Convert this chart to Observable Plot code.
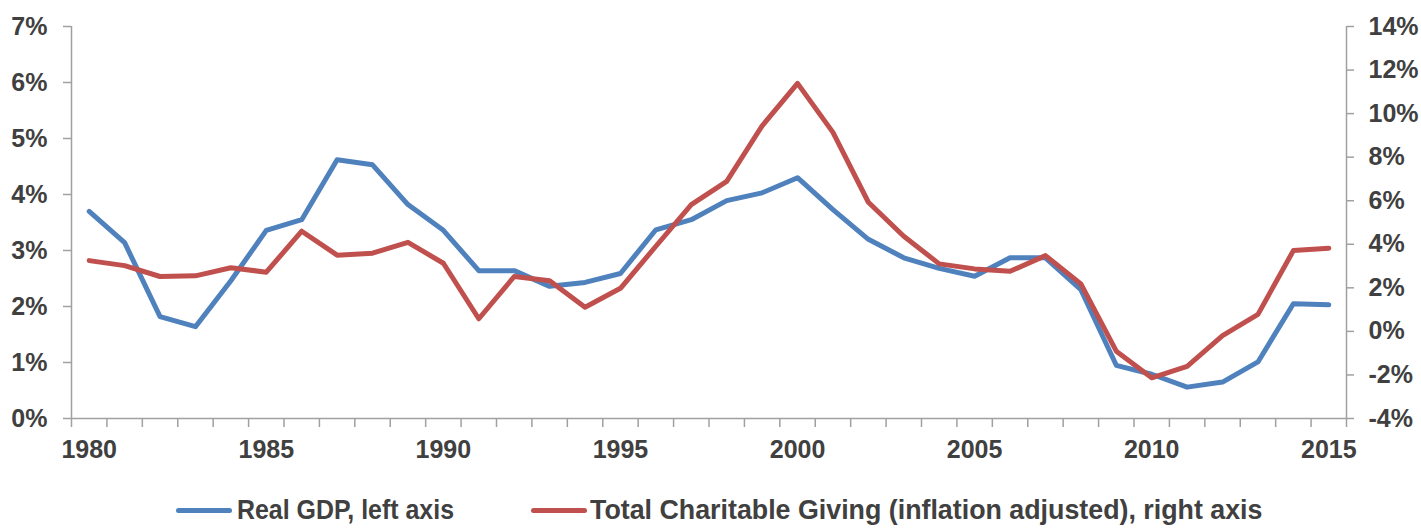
<!DOCTYPE html>
<html>
<head>
<meta charset="utf-8">
<script src="https://cdn.jsdelivr.net/npm/d3@7"></script>
<script src="https://cdn.jsdelivr.net/npm/@observablehq/plot@0.6"></script>
<style>
  html, body { margin: 0; padding: 0; background: #fff; }
  #chart { width: 1421px; }
  .legend {
    position: relative; width: 1421px; height: 59px;
    font-family: "Liberation Sans", sans-serif;
    font-weight: bold; font-size: 28px; color: #404040;
  }
  .legend .sw { position: absolute; top: 38px; width: 56px; height: 5px; border-radius: 3px; }
  .legend .tx { position: absolute; top: 24px; line-height: 32px; white-space: nowrap; transform-origin: 0 50%; }
</style>
</head>
<body>
<div id="chart"></div>
<div class="legend">
  <span class="sw" style="left:176px;background:#4F81BD"></span>
  <span class="tx" id="l1" style="left:237px;transform:scaleX(0.89)"></span>
  <span class="sw" style="left:531px;background:#C0504D"></span>
  <span class="tx" id="l2" style="left:590px;transform:scaleX(0.957)"></span>
</div>
<script>
const years = d3.range(1980, 2016);
const realGDP = [3.70, 3.14, 1.82, 1.64, 2.46, 3.36, 3.55, 4.62, 4.53, 3.82,
                 3.36, 2.64, 2.64, 2.36, 2.43, 2.59, 3.37, 3.55, 3.89, 4.03,
                 4.30, 3.73, 3.20, 2.87, 2.68, 2.54, 2.87, 2.87, 2.30, 0.95,
                 0.79, 0.56, 0.65, 1.01, 2.05, 2.03];
const giving = [3.25, 3.02, 2.52, 2.55, 2.92, 2.72, 4.60, 3.50, 3.59, 4.09,
                3.13, 0.58, 2.52, 2.33, 1.11, 1.98, 3.91, 5.82, 6.89, 9.44,
                11.39, 9.14, 5.93, 4.37, 3.10, 2.87, 2.76, 3.48, 2.18, -0.91,
                -2.13, -1.61, -0.19, 0.78, 3.71, 3.82];
const leftTicks = [0, 1, 2, 3, 4, 5, 6, 7];
const rightTicks = [-4, -2, 0, 2, 4, 6, 8, 10, 12, 14];
const xLabels = [1980, 1985, 1990, 1995, 2000, 2005, 2010, 2015];
const seriesNames = ["Real GDP, left axis", "Total Charitable Giving (inflation adjusted), right axis"];

document.getElementById("l1").textContent = seriesNames[0];
document.getElementById("l2").textContent = seriesNames[1];

// map right-axis value onto left-axis domain
const L0 = leftTicks[0], L1 = leftTicks[leftTicks.length - 1];
const R0 = rightTicks[0], R1 = rightTicks[rightTicks.length - 1];
const toLeft = r => L0 + (r - R0) * (L1 - L0) / (R1 - R0);
const toRight = l => R0 + (l - L0) * (R1 - R0) / (L1 - L0);

const gdpData = years.map((y, i) => ({year: y, v: realGDP[i]}));
const givData = years.map((y, i) => ({year: y, v: toLeft(giving[i])}));
const x0 = years[0] - 0.5, x1 = years[years.length - 1] + 0.5;
const boundaries = d3.range(x0, x1 + 0.01, 1);

const axisGray = "#a0a0a0";
const textCol = "#404040";

const chart = Plot.plot({
  width: 1421,
  height: 470,
  marginLeft: 71,
  marginRight: 75,
  marginTop: 26,
  marginBottom: 52,
  style: {fontFamily: "'Liberation Sans', sans-serif", fontWeight: "bold", fontSize: "25px", color: textCol, background: "#fff"},
  x: {domain: [x0, x1]},
  y: {domain: [L0, L1]},
  marks: [
    Plot.axisY({anchor: "left", ticks: leftTicks, tickFormat: d => d + "%", tickSize: 8, tickPadding: 16, stroke: axisGray, strokeWidth: 1.5, fill: textCol, label: null}),
    Plot.axisY({anchor: "right", ticks: rightTicks.map(toLeft), tickFormat: d => Math.round(toRight(d)) + "%", tickSize: 7, tickPadding: 15, stroke: axisGray, strokeWidth: 1.5, fill: textCol, textAnchor: "start", label: null}),
    Plot.axisX({ticks: boundaries, tickFormat: () => "", tickSize: 9, stroke: axisGray, strokeWidth: 1.5, label: null}),
    Plot.axisX({ticks: xLabels, tickFormat: d => String(d), tickSize: 0, tickPadding: 22, fill: textCol, label: null}),
    Plot.ruleX([x0, x1], {y1: L0, y2: L1, stroke: axisGray, strokeWidth: 1.5}),
    Plot.ruleY([L0], {x1: x0, x2: x1, stroke: axisGray, strokeWidth: 1.5}),
    Plot.line(gdpData, {x: "year", y: "v", stroke: "#4F81BD", strokeWidth: 5, strokeLinejoin: "round", strokeLinecap: "round"}),
    Plot.line(givData, {x: "year", y: "v", stroke: "#C0504D", strokeWidth: 5, strokeLinejoin: "round", strokeLinecap: "round"})
  ]
});
document.getElementById("chart").appendChild(chart);
</script>
</body>
</html>
